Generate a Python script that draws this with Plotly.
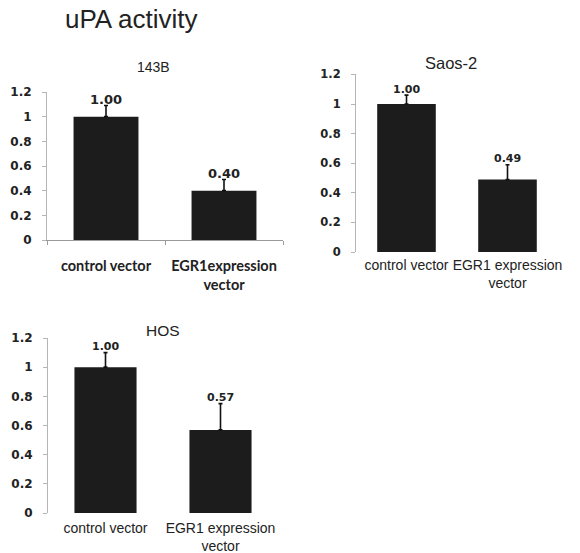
import plotly.graph_objects as go

W, H = 580, 553

# ---- data ----
categories_143b = ["control vector", "EGR1expression<br>vector"]
categories_other = ["control vector", "EGR1 expression<br>vector"]
values_143b = [1.00, 0.40]
errors_143b = [0.09, 0.09]
values_saos2 = [1.00, 0.49]
errors_saos2 = [0.06, 0.10]
values_hos = [1.00, 0.57]
errors_hos = [0.10, 0.18]
y_ticks = [0, 0.2, 0.4, 0.6, 0.8, 1.0, 1.2]
panel_titles = ["143B", "Saos-2", "HOS"]
main_title = "uPA activity"

BAR = "#1c1c1c"
AX = "#9a9a9a"
CALIBRI = "Lato, Carlito, 'Open Sans', sans-serif"
VERDANA = "'DejaVu Sans', Verdana, sans-serif"
GOTHIC = "'Liberation Sans', Arial, sans-serif"


def px_x(a, b):
    return [a / W, b / W]


def px_y(bottom, top):
    return [(H - bottom) / H, (H - top) / H]


fig = go.Figure()

panels = [
    dict(cats=categories_143b, vals=values_143b, errs=errors_143b, w=0.55,
         xd=px_x(47, 283), yd=px_y(240, 92), bold=True, vfs=13, tfs=12, std=13, cfs=14.5),
    dict(cats=categories_other, vals=values_saos2, errs=errors_saos2, w=0.58,
         xd=px_x(356, 558), yd=px_y(252, 74.4), bold=False, vfs=11, tfs=11.5, std=3, cfs=14),
    dict(cats=categories_other, vals=values_hos, errs=errors_hos, w=0.54,
         xd=px_x(48, 278), yd=px_y(513, 338), bold=False, vfs=11, tfs=12, std=5, cfs=14),
]

annotations = []
for i, p in enumerate(panels):
    suf = "" if i == 0 else str(i + 1)
    fig.add_trace(go.Bar(
        x=p["cats"], y=p["vals"], width=p["w"],
        marker=dict(color=BAR, line=dict(width=0)),
        error_y=dict(type="data", symmetric=False, array=p["errs"],
                     arrayminus=[0] * len(p["errs"]), color="#111111",
                     thickness=1.6, width=2),
        xaxis="x" + suf, yaxis="y" + suf, showlegend=False,
    ))
    for c, v, e in zip(p["cats"], p["vals"], p["errs"]):
        annotations.append(dict(
            x=c, y=v + e, xref="x" + suf, yref="y" + suf,
            text="<b>%.2f</b>" % v, showarrow=False, yanchor="middle", yshift=6,
            font=dict(family=VERDANA, size=p["vfs"], color="#222"),
        ))

    xa = dict(domain=p["xd"], anchor="y" + suf, type="category",
              showgrid=False, zeroline=False, fixedrange=True,
              tickangle=0, automargin=False,
              tickfont=dict(family=CALIBRI if p["bold"] else GOTHIC,
                            size=p["cfs"], color="#222"))
    if i == 0:
        xa.update(showline=True, linecolor=AX, linewidth=1, ticks="outside",
                  tickson="boundaries", ticklen=4, tickcolor=AX,
                  ticklabelstandoff=p["std"],
                  tickvals=p["cats"],
                  ticktext=["<b>%s</b>" % c for c in p["cats"]])
    else:
        xa.update(showline=False, ticks="", ticklabelstandoff=p["std"])
    ya = dict(domain=p["yd"], anchor="x" + suf, range=[0, 1.2],
              tickvals=y_ticks, ticktext=["<b>%g</b>" % t for t in y_ticks],
              showgrid=False, zeroline=False, showline=True, linecolor="#b5b5b5",
              linewidth=1, ticks="outside", ticklen=4, tickcolor="#b5b5b5",
              ticklabelstandoff=8, fixedrange=True, automargin=False,
              tickfont=dict(family=VERDANA, size=p["tfs"], color="#222"))
    fig.update_layout({"xaxis" + suf: xa, "yaxis" + suf: ya})

title_pos = [(153, 67, 14), (451, 63, 16.5), (163, 330, 15.5)]
for t, (cx, cy, fs) in zip(panel_titles, title_pos):
    annotations.append(dict(x=cx / W, y=(H - cy) / H, xref="paper", yref="paper",
                            text=t, showarrow=False, xanchor="center", yanchor="middle",
                            font=dict(family=GOTHIC, size=fs, color="#222")))
annotations.append(dict(x=63 / W, y=(H - 19) / H, xref="paper", yref="paper",
                        text=main_title, showarrow=False, xanchor="left", yanchor="middle",
                        font=dict(family=GOTHIC, size=26, color="#222")))

fig.update_layout(width=W, height=H, margin=dict(l=0, r=0, t=0, b=0),
                  paper_bgcolor="white", plot_bgcolor="white",
                  annotations=annotations, bargap=0.4)

fig.write_html("out.html")
